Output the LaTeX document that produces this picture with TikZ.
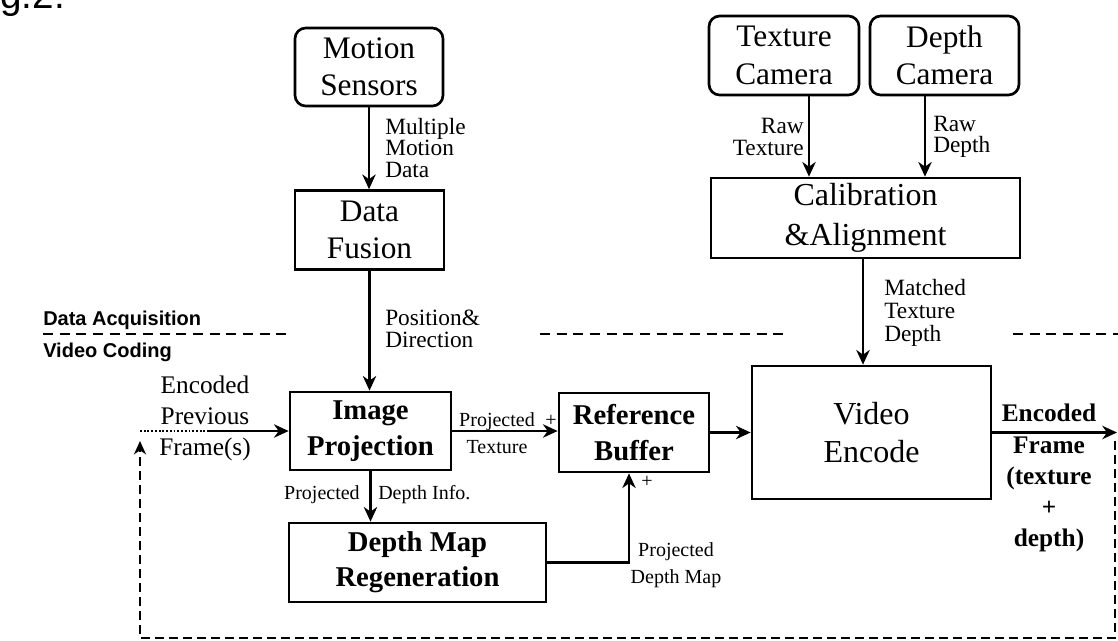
\documentclass[tikz,border=0pt]{standalone}
\usepackage{fontspec}
\setmainfont{Liberation Serif}
\setsansfont{Liberation Sans}
\usetikzlibrary{arrows.meta}
\begin{document}
\begin{tikzpicture}[x=0.75pt,y=-0.75pt,
  box/.style={draw,line width=2pt,inner sep=0pt,align=center},
  rbox/.style={box,rounded corners=8pt},
  bigtxt/.style={font=\fontsize{23.5}{28}\selectfont},
  boldtxt/.style={font=\fontsize{21.5}{26.5}\selectfont\bfseries},
  midtxt/.style={font=\fontsize{17.5}{16}\selectfont,inner sep=0pt},
  smalltxt/.style={font=\fontsize{15}{20}\selectfont,inner sep=0pt},
  enctxt/.style={font=\fontsize{19}{23.3}\selectfont,inner sep=0pt},
  sectxt/.style={font=\fontsize{15}{18}\selectfont\sffamily\bfseries,inner sep=0pt},
  arr/.style={line width=2pt,-{Stealth[length=11pt,width=10pt,inset=3.5pt]}},
  loopline/.style={line width=1.5pt,dash pattern=on 6.5pt off 4pt},
  sepline/.style={line width=1.8pt,dash pattern=on 7.5pt off 5pt},
  dotline/.style={line width=1.6pt,dash pattern=on 1.4pt off 1.4pt}]
\useasboundingbox (0,0) rectangle (1118,640);

% figure caption (cropped at top edge)
\node[font=\fontsize{29}{32}\selectfont\sffamily,anchor=base west,inner sep=0pt] (fig) at (-32,8) {Fig.2.};

% boxes
\node[rbox,bigtxt,minimum width=111pt,minimum height=58.5pt] (ms) at (369,67) {Motion\\Sensors};
\node[box,bigtxt,minimum width=111.75pt,minimum height=59.25pt] (df) at (369.5,230) {Data\\Fusion};
\node[rbox,bigtxt,minimum width=112.5pt,minimum height=59.25pt] (tc) at (784,55.5) {Texture\\Camera};
\node[rbox,bigtxt,minimum width=111.75pt,minimum height=59.25pt] (dc) at (944.5,55.5) {Depth\\Camera};
\node[box,bigtxt,minimum width=231.75pt,minimum height=60pt,font=\fontsize{24}{30}\selectfont] (ca) at (865.5,218) {Calibration\\\&Alignment};
\node[box,boldtxt,minimum width=120.75pt,minimum height=58.5pt] (ip) at (370.5,431) {Image\\Projection};
\node[box,boldtxt,minimum width=112.5pt,minimum height=59.25pt] (rb) at (634,432.5) {Reference\\Buffer};
\node[box,boldtxt,minimum width=192.75pt,minimum height=59.25pt] (dm) at (417.5,562.5) {Depth Map\\Regeneration};
\node[box,bigtxt,minimum width=179.25pt,minimum height=99.75pt,font=\fontsize{24}{29}\selectfont] (ve) at (871.5,432.5) {Video\\Encode};

% helper coordinates
\coordinate (tx) at (809,0);
\coordinate (dx) at (925,0);
\coordinate (cx) at (863,0);
\coordinate (px) at (629,0);
\coordinate (out) at (1117,432.5);
\coordinate (l1) at (1115,441);
\coordinate (l2) at (1115,638);
\coordinate (l3) at (140,638);
\coordinate (l4) at (140,441);
\coordinate (d1) at (140,431);
\coordinate (d2) at (208,431);

% connectors
\draw[arr] (ms.south) -- (ms.south |- df.north);
\draw[arr] (df.south) -- (df.south |- ip.north);
\draw[arr] (tc.south -| tx) -- (tx |- ca.north);
\draw[arr] (dc.south -| dx) -- (dx |- ca.north);
\draw[arr] (ca.south -| cx) -- (cx |- ve.north);
\draw[arr] (ip.east) -- (ip.east -| rb.west);
\draw[arr] (ip.south) -- (ip.south |- dm.north);
\draw[arr] (dm.east) -- (dm.east -| px) -- (px |- rb.south);
\draw[arr] (rb.east) -- (rb.east -| ve.west);
\draw[arr] (ve.east) -- (out);
\draw[loopline,-{Stealth[length=10pt,width=9pt,inset=3pt]}] (l1) -- (l2) -- (l3) -- (l4);
\draw[dotline] (d1) -- (d2);
\draw[arr] (d2) -- (d2 -| ip.west);

% separator
\draw[sepline] (43,334) -- (292,334);
\draw[sepline] (540,334) -- (788,334);
\draw[sepline] (1013,334) -- (1118,334);
\node[sectxt,anchor=west] (da) at (43,320) {Data Acquisition};
\node[sectxt,anchor=west] (vc) at (43,352) {Video Coding};

% labels
\node[midtxt,anchor=west,align=left] (lmm) at (385,148) {Multiple\\Motion\\Data};
\node[midtxt,anchor=west,align=left,font=\fontsize{17.5}{16.5}\selectfont] (lpd) at (385,329) {Position\&\\Direction};
\node[midtxt,anchor=east,align=right] (lrt) at (804,137) {Raw\\Texture};
\node[midtxt,anchor=west,align=left] (lrd) at (933,137) {Raw\\Depth};
\node[midtxt,anchor=west,align=left,font=\fontsize{17.5}{17.3}\selectfont] (lmt) at (884,313) {Matched\\Texture\\Depth};
\node[smalltxt,align=center] (lpt) at (497,433) {Projected\\Texture};
\node[smalltxt] (plus1) at (551,421) {+};
\node[smalltxt,anchor=east] (lp1) at (360,495) {Projected};
\node[smalltxt,anchor=west] (lp2) at (378,495) {Depth Info.};
\node[smalltxt] (plus2) at (647,482) {+};
\node[smalltxt,align=center] (lpdm) at (676,565) {Projected\\Depth Map};
\node[enctxt,align=center] (lep) at (205,418) {Encoded\\Previous\\Frame(s)};
\node[enctxt,align=center,font=\fontsize{19}{23.3}\selectfont\bfseries] (lef) at (1049,478) {Encoded\\Frame\\(texture\\+\\depth)};
\end{tikzpicture}
\end{document}
